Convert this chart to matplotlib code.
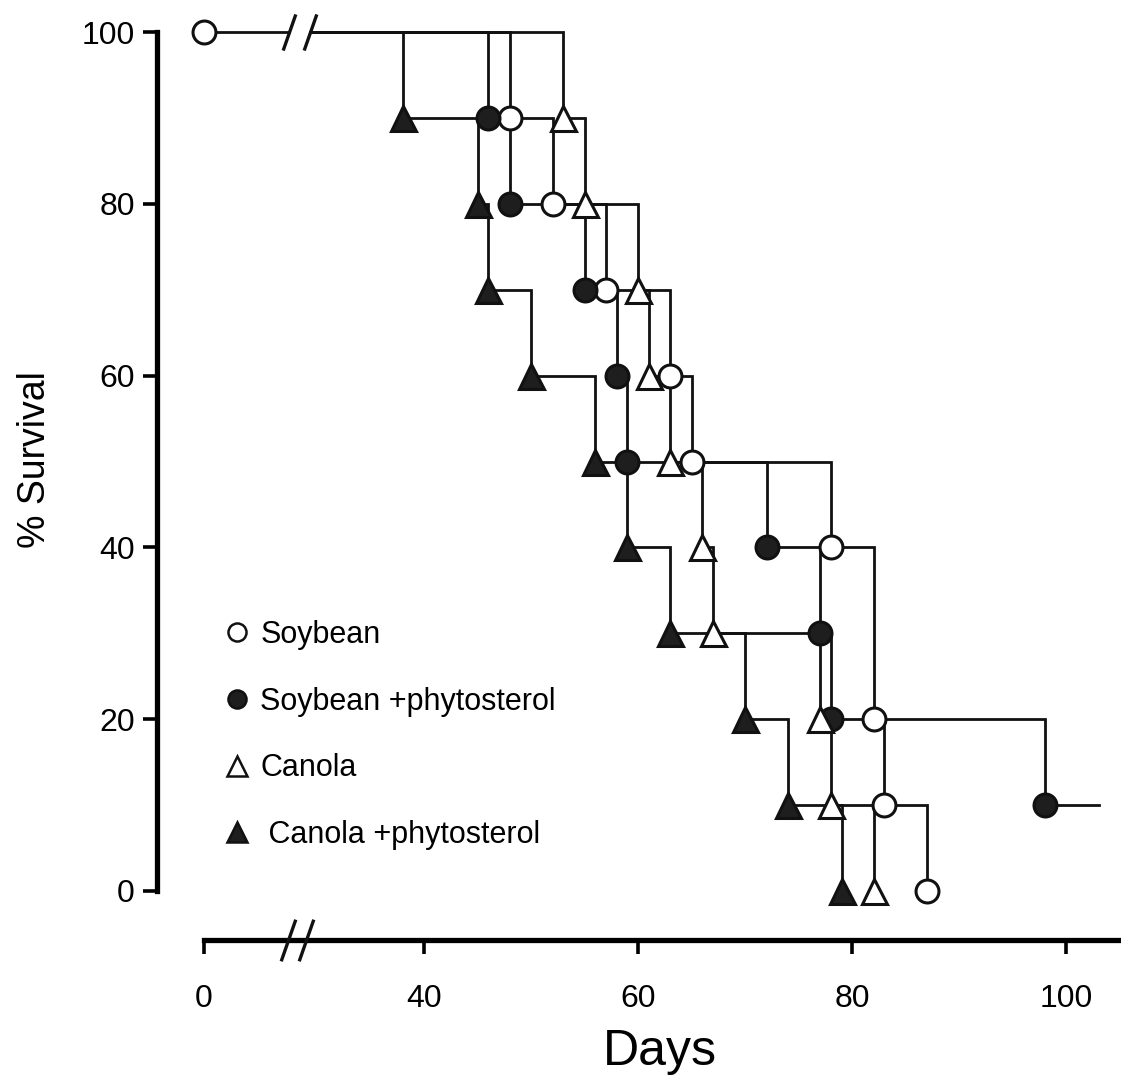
import numpy as np
import matplotlib
matplotlib.use("Agg")
import matplotlib.pyplot as plt
from matplotlib.path import Path
from matplotlib.lines import Line2D
import matplotlib.transforms as mtransforms

plt.rcParams['font.family'] = ['Liberation Sans', 'DejaVu Sans']

# datos: dias de muerte y % de supervivencia despues de cada evento
soy_days = [48, 52, 57, 63, 65, 78, 82, 83, 87]
soy_surv = [90, 80, 70, 60, 50, 40, 20, 10, 0]

soyp_days = [46, 48, 55, 58, 59, 72, 77, 78, 98]
soyp_surv = [90, 80, 70, 60, 50, 40, 30, 20, 10]
soyp_end = 103

can_days = [53, 55, 60, 61, 63, 66, 67, 77, 78, 82]
can_surv = [90, 80, 70, 60, 50, 40, 30, 20, 10, 0]

canp_days = [38, 45, 46, 50, 56, 59, 63, 70, 74, 79]
canp_surv = [90, 80, 70, 60, 50, 40, 30, 20, 10, 0]

labels = ['Soybean', 'Soybean +phytosterol', 'Canola', ' Canola +phytosterol']
xticks = [0, 40, 60, 80, 100]
yticks = [0, 20, 40, 60, 80, 100]

# eje x cortado: 0..BREAK_LO comprimido
X0 = 19.44
BREAK_LO = 27.4
BREAK_HI = 29.3


def fwd(x):
    x = np.asarray(x, dtype=float)
    return np.where(x < BREAK_LO, X0 + x * (BREAK_LO - X0) / BREAK_LO, x)


def inv(y):
    y = np.asarray(y, dtype=float)
    return np.where(y < BREAK_LO, (y - X0) * BREAK_LO / (BREAK_LO - X0), y)


W, H = 1121, 1081
fig = plt.figure(figsize=(W / 100, H / 100), dpi=100)
ax = fig.add_axes([204 / W, 1 - 891 / H, (W - 204) / W, (891 - 32) / H])
ax.set_xscale('function', functions=(fwd, inv))
ax.set_xlim(0, 105.1)
ax.set_ylim(0, 100)

lw = 2.0
k = '#111111'
fill = '#1e1e1e'

series = [
    (soy_days, soy_surv, None, 'o', 'white'),
    (soyp_days, soyp_surv, soyp_end, 'o', fill),
    (can_days, can_surv, None, '^', 'white'),
    (canp_days, canp_surv, None, '^', fill),
]

# linea inicial al 100%
ax.plot([0, BREAK_LO], [100, 100], color=k, lw=lw, clip_on=False, zorder=2)
ax.plot([0], [100], marker='o', ms=16.5, mfc='white', mec=k, mew=2.2,
        clip_on=False, zorder=4)

for days, surv, end, mk, fc in series:
    xs = [BREAK_HI] + list(days)
    ys = [100] + list(surv)
    if end is not None:
        xs.append(end)
        ys.append(surv[-1])
    ax.plot(xs, ys, drawstyle='steps-post', color=k, lw=lw, clip_on=False,
            zorder=2, solid_joinstyle='miter')
    ms = 16.5 if mk == 'o' else 18
    ax.plot(days, surv, ls='none', marker=mk, ms=ms, mfc=fc, mec=k, mew=2.2,
            clip_on=False, zorder=4)

# marcas de corte //
slash = Path([(-0.35, -1), (0.35, 1)], [Path.MOVETO, Path.LINETO])
ax.plot([BREAK_LO, BREAK_HI], [100, 100], ls='none', marker=slash, ms=26,
        mec=k, mew=2.4, clip_on=False, zorder=3)
trans_b = mtransforms.offset_copy(ax.get_xaxis_transform(), fig=fig,
                                  y=-49 * 0.72, units='points')
ax.plot([BREAK_LO - 0.3, BREAK_HI - 0.3], [0, 0], transform=trans_b, ls='none',
        marker=slash, ms=30, mec=k, mew=2.4, clip_on=False, zorder=5)

# ejes
for s in ['top', 'right']:
    ax.spines[s].set_visible(False)
ax.spines['left'].set_position(('outward', 47 * 0.72))
ax.spines['bottom'].set_position(('outward', 49 * 0.72))
ax.spines['left'].set_linewidth(3.8)
ax.spines['bottom'].set_linewidth(3.8)
ax.spines['left'].set_bounds(0, 100)
ax.spines['bottom'].set_bounds(0, 105.1)

ax.set_xticks(xticks)
ax.set_xticklabels([str(t) for t in xticks])
ax.set_yticks(yticks)
ax.set_yticklabels([str(t) for t in yticks])
ax.xaxis.set_minor_locator(matplotlib.ticker.NullLocator())
ax.tick_params(axis='x', direction='out', length=10, width=2.6, pad=22,
               labelsize=23)
ax.tick_params(axis='y', direction='out', length=10, width=2.6, pad=6,
               labelsize=23)

fig.text(660 / W, 1 - 1052 / H, 'Days', fontsize=36, ha='center', va='center')
fig.text(35 / W, 1 - 460 / H, '% Survival', fontsize=27, ha='center',
         va='center', rotation=90)

# leyenda
handles = []
for days, surv, end, mk, fc in series:
    handles.append(Line2D([], [], ls='none', marker=mk,
                          ms=13 if mk == 'o' else 14, mfc=fc, mec=k, mew=1.8))
ax.legend(handles, labels, loc='upper left',
          bbox_to_anchor=(225 / W, 1 - 620 / H), bbox_transform=fig.transFigure,
          frameon=False, fontsize=22, handlelength=0.8, handletextpad=0.35,
          labelspacing=1.2, borderpad=0, borderaxespad=0)

fig.savefig('out.png', dpi=100)
